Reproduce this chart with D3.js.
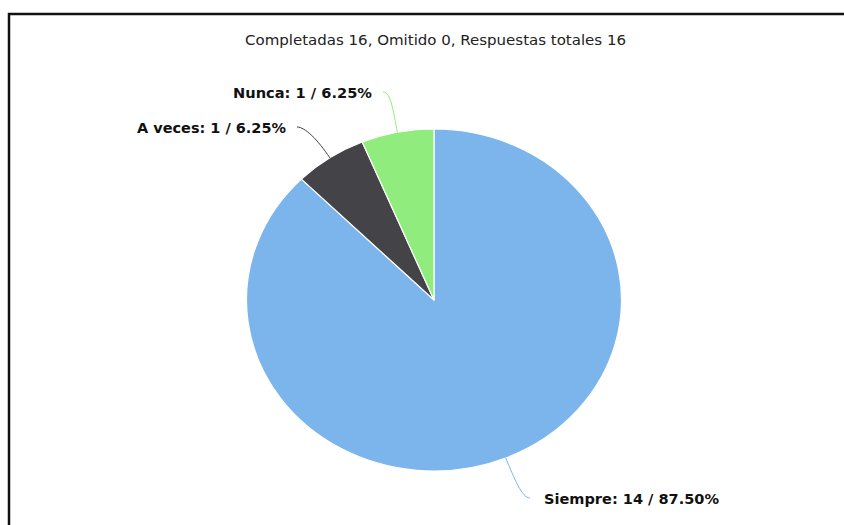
<!DOCTYPE html>
<html>
<head>
<meta charset="utf-8">
<script src="https://cdn.jsdelivr.net/npm/d3@7"></script>
<style>
  html, body { margin: 0; padding: 0; background: #fff; }
  svg { display: block; }
</style>
</head>
<body>
<svg id="chart" width="844" height="525"></svg>
<script>
// Survey answers
const categories = ["Siempre", "A veces", "Nunca"];
const counts = [14, 1, 1];
const percents = ["87.50%", "6.25%", "6.25%"];
const colors = ["#7cb5ec", "#434348", "#90ed7d"];
const titleText = "Completadas 16, Omitido 0, Respuestas totales 16";

const W = 844, H = 525;
const svg = d3.select("#chart");

// frame
svg.append("rect")
  .attr("x", 9).attr("y", 14)
  .attr("width", W + 20).attr("height", H + 20)
  .attr("fill", "#fff").attr("stroke", "#111").attr("stroke-width", 2.5);

// title
svg.append("text")
  .attr("x", 245).attr("y", 45)
  .attr("font-family", "'DejaVu Sans Condensed', 'DejaVu Sans', sans-serif")
  .attr("font-size", 14)
  .attr("fill", "#222")
  .attr("textLength", 381)
  .attr("lengthAdjust", "spacingAndGlyphs")
  .text(titleText);

// pie geometry (slightly wider than tall)
const cx = 434, cy = 300, ry = 171, rx = 187.5;
const sx = rx / ry;

const data = categories.map((c, i) => ({ name: c, value: counts[i], pct: percents[i], color: colors[i] }));
const pie = d3.pie().sort(null).value(d => d.value);
const arcs = pie(data);
const arc = d3.arc().innerRadius(0).outerRadius(ry);

const g = svg.append("g").attr("transform", `translate(${cx},${cy}) scale(${sx},1)`);
g.selectAll("path.slice")
  .data(arcs)
  .join("path")
  .attr("class", "slice")
  .attr("d", arc)
  .attr("fill", d => d.data.color)
  .attr("stroke", "#fff")
  .attr("stroke-width", 1.2)
  .attr("vector-effect", "non-scaling-stroke");

// labels: position, width, side
const labelSpec = {
  "Siempre": { x: 544, y: 504, w: 175, anchor: "start" },
  "A veces": { x: 137, y: 133, w: 149, anchor: "end" },
  "Nunca":   { x: 233, y: 98,  w: 139, anchor: "end" }
};

arcs.forEach(a => {
  const spec = labelSpec[a.data.name];
  const mid = (a.startAngle + a.endAngle) / 2;
  const dx = Math.sin(mid), dy = -Math.cos(mid);
  const px = cx + rx * dx, py = cy + ry * dy;
  const lx = spec.anchor === "end" ? spec.x + spec.w + 11 : spec.x - 14;
  const ly = spec.y - 6;
  const hx = spec.anchor === "end" ? 8 : -8;
  const path = d3.path();
  path.moveTo(lx, ly);
  path.bezierCurveTo(lx + hx, ly, px + dx * 22, py + dy * 22, px, py);
  svg.append("path")
    .attr("d", path.toString())
    .attr("fill", "none")
    .attr("stroke", a.data.color)
    .attr("stroke-width", 1);

  svg.append("text")
    .attr("x", spec.x).attr("y", spec.y)
    .attr("font-family", "'DejaVu Sans', Verdana, sans-serif")
    .attr("font-weight", "bold")
    .attr("font-size", 13.5)
    .attr("fill", "#111")
    .attr("textLength", spec.w)
    .attr("lengthAdjust", "spacingAndGlyphs")
    .text(`${a.data.name}: ${a.data.value} / ${a.data.pct}`);
});
</script>
</body>
</html>
